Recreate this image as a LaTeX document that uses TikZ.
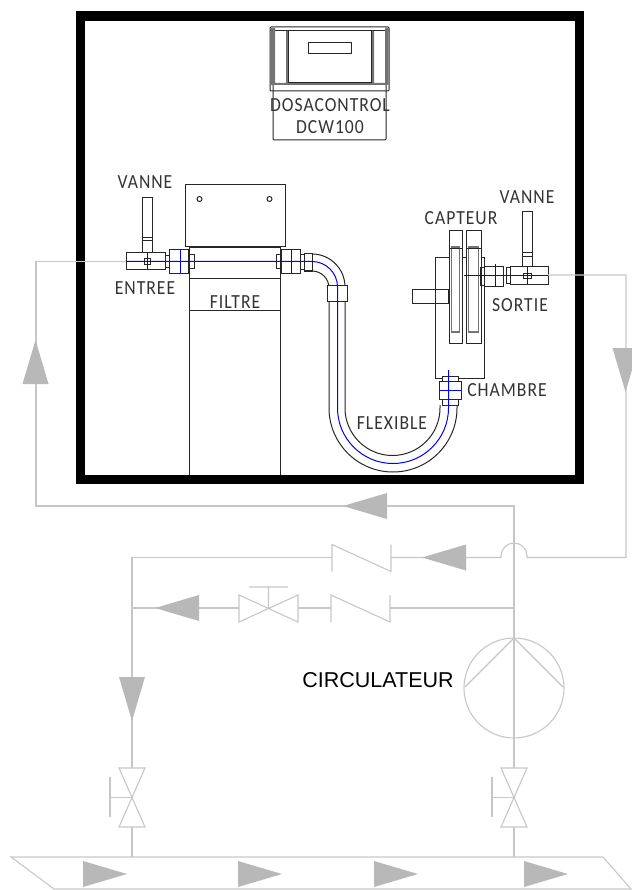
\documentclass[tikz,border=0pt]{standalone}
\usepackage{fontspec}
\newfontfamily\cadfont[FakeStretch=0.88,LetterSpace=5]{Carlito}
\newfontfamily\arialfont{Liberation Sans}
\begin{document}
\begin{tikzpicture}[x=1pt,y=-1pt,
  part/.style={draw=black!85,line width=1pt},
  heavy/.style={draw=black!55,line width=1.6pt},
  axis/.style={draw=blue,line width=1pt},
  pipe/.style={draw=black!22,line width=1.1pt},
  flow/.style={fill=black!28},
  lbl/.style={font=\cadfont\fontsize{20}{20}\selectfont,text=black!80,inner sep=0pt}]
\useasboundingbox (0,0) rectangle (631,890);
\draw[line width=9.5pt] (80.5,16) rectangle (579.5,479.5);
% regulateur
\draw[part,rounded corners=1pt] (273,85) -- (273,140) -- (386,140) -- (386,85);
\draw[part,rounded corners=1pt] (270,27) rectangle (389,91);
\draw[part] (270,31) -- (389,31) (272,85) -- (387,85);
\fill[black!55] (270.5,28) rectangle (275,85) (385,28) rectangle (388.5,85) (286,31) rectangle (288,85) (372,31) rectangle (374,85) (272,83) rectangle (387,85);
\draw[part] (288,31) rectangle (371,83) (308,43) rectangle (351,54);
\node[lbl] (regul) at (330,105) {DOSACONTROL};
\node[lbl] (dcw) at (330,127) {DCW100};
% filtre
\draw[part] (185,185) rectangle (285,247);
\draw[part] (199.5,199) circle (2.5) (269.5,199) circle (2.5);
\draw[part] (189,475) -- (189,248) -- (280,248) -- (280,475);
\draw[part] (189,278) -- (280,278) (189,310) -- (280,310);
\node[lbl] (filtre) at (235,302) {FILTRE};
% raccords
\foreach \x in {169,281} {
  \draw[part] (\x,250) rectangle +(19.5,23);
}
\draw[part] (189,255) rectangle (194,269) (276,255) rectangle (281,269);
\draw[part] (165,256) rectangle (169,268) (300,255) rectangle (304,270) (304,254) rectangle (312,271);
% vanne entree
\draw[part] (126,253) rectangle (165,270);
\draw[part] (142,253) -- (142,198) -- (152,198) -- (152,253) (142,238) -- (152,238) (142,241) -- (152,241);
\draw[part] (144,259) rectangle (150,265);
% flexible
\draw[part] (312,254) arc[start angle=-90,end angle=0,radius=33] -- (345,408) arc[start angle=180,end angle=0,radius=47.5] -- (440,405);
\draw[part] (312,271) arc[start angle=-90,end angle=0,radius=17] -- (329,408) arc[start angle=180,end angle=0,radius=64] -- (457,405);
\draw[part,fill=white] (327,285) rectangle (347,301);
% chambre
\draw[part] (435,258) rectangle (484,378);
\draw[part] (412,289) rectangle (448,303);
\foreach \x/\w in {449/13,466/15} {
  \draw[part,fill=white] (\x,249) rectangle +(\w,94);
  \draw[heavy] (\x+2.5,247) -- (\x+2.5,332) -- (\x+\w-2.5,332) -- (\x+\w-2.5,247) -- cycle;
  \draw[part] (\x,231) rectangle +(\w,18);
}
\draw[part,fill=white] (442,376) rectangle (458,381) (439,381) rectangle (461,399) (442,399) rectangle (458,405);
% vanne sortie
\draw[part] (480,268) rectangle (484,285) (484,267) rectangle (503,286);
\draw[part] (506,268) rectangle (510,283) (510,267) rectangle (548,284);
\draw[part] (522,267) -- (522,212) -- (532,212) -- (532,267) (522,253) -- (532,253) (522,257) -- (532,257);
\draw[part] (523,273) rectangle (531,278);
% axes
\draw[axis] (126,261.5) -- (312,261.5) arc[start angle=-90,end angle=0,radius=25.5] -- (337.5,408) arc[start angle=180,end angle=0,radius=55.5] -- (448.5,370);
\draw[axis] (464,275) -- (548,275);
\foreach \x/\a/\b in {147/253/270,180/250/273,291/250/273,495/264/287,527/267/284} {
  \draw[axis] (\x,\a) -- (\x,\b);
}
\draw[axis] (439,390) -- (461,390);
% textes
\node[lbl] (vanneE) at (145,182) {VANNE};
\node[lbl] (entree) at (145,288) {ENTREE};
\node[lbl] (vanneS) at (527,197) {VANNE};
\node[lbl] (capteur) at (461,218) {CAPTEUR};
\node[lbl] (sortie) at (520,305) {SORTIE};
\node[lbl] (chambre) at (507,390) {CHAMBRE};
\node[lbl] (flexible) at (392,423) {FLEXIBLE};
% circuit
\coordinate (in) at (126,261.5);
\coordinate (out) at (548,275);
\coordinate (topA) at (36,261.5);
\coordinate (topB) at (36,506);
\coordinate (tee) at (514,506);
\coordinate (pump) at (514,688);
\coordinate (bankL) at (132,857);
\coordinate (bankR) at (514,857);
\coordinate (rowA) at (132,557.5);
\coordinate (rowB) at (132,608);
\coordinate (teeB) at (514,608);
\draw[pipe] (in) -- (topA) -- (topB) -- (tee) -- (bankR);
\draw[pipe] (out) -- (626,275) -- (626,557.5) -- (527,557.5) -- (527,556) arc[start angle=0,end angle=-180,radius=13] -- (501,557.5) -- (391,557.5);
\draw[pipe] (332,557.5) -- (rowA) -- (bankL);
\draw[pipe] (teeB) -- (390,608) (331,608) -- (298,608) (239,608) -- (rowB);
% clapets
\foreach \x/\y in {332/544.5,331/595} {
  \draw[pipe] (\x,\y+27) -- (\x,\y) -- (\x+59,\y+27) -- (\x+59,\y);
}
\draw[pipe] (239,595) -- (298,622) -- (298,595) -- (239,622) -- cycle (268.5,608) -- (268.5,587) (249,587) -- (288,587);
\foreach \x in {132,514} {
  \draw[pipe,fill=white] (\x-13,768) -- (\x+13,768) -- (\x-13,827) -- (\x+13,827) -- cycle;
  \draw[pipe] (\x,797.5) -- (\x-22,797.5) (\x-22,777) -- (\x-22,817);
}
% pompe
\draw[pipe] (pump) circle (50);
\draw[pipe] (465,687) -- (514,638) -- (563,687);
\node[font=\arialfont\fontsize{21.5}{21.5}\selectfont,inner sep=0pt] (circ) at (378,680) {CIRCULATEUR};
% collecteur
\draw[pipe] (54,889) -- (11,857) -- (603,857) -- (631,889) -- cycle;
% fleches
\foreach \x/\y/\r in {343/506/0,422/557.5/0,155/608/0,35.5/340/270,625.5/392/90,132/721/90,127/874/180,282/874/180,418/874/180,568/874/180} {
  \fill[flow,shift={(\x,\y)},rotate=\r] (0,0) -- (44,13) -- (44,-13) -- cycle;
}
\end{tikzpicture}
\end{document}
